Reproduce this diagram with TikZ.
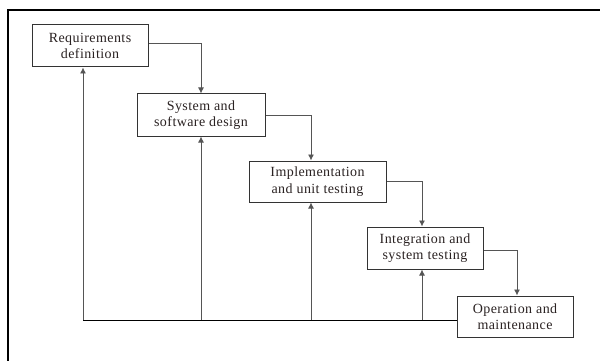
\documentclass[tikz,border=0pt]{standalone}
\usepackage{fontspec}
\setmainfont[LetterSpace=3]{Liberation Serif}
\usetikzlibrary{arrows.meta}
\definecolor{txt}{HTML}{2A2222}
\definecolor{ln}{HTML}{555555}
\definecolor{bx}{HTML}{333333}
\begin{document}
\begin{tikzpicture}[x=1pt,y=-1pt,
  stage/.style={draw=bx, line width=1pt, fill=white, align=center, inner sep=0pt,
    text=txt, font=\fontsize{14}{16.5}\selectfont},
  conn/.style={draw=ln, line width=0.9pt},
  arr/.style={conn, -{Latex[length=6pt,width=6pt]}}]
\useasboundingbox (0,0) rectangle (600,361);
\fill[white] (0,0) rectangle (600,361);
\draw[line width=2pt, black] (7.5,361) -- (7.5,10) -- (600,10);

\node[stage, minimum width=116pt, minimum height=42pt] (req) at (90,46) {Requirements\\definition};
\node[stage, minimum width=128pt, minimum height=42pt] (sys) at (201,115) {System and\\software design};
\node[stage, minimum width=137pt, minimum height=41pt] (impl) at (317.5,181.5) {Implementation\\and unit testing};
\node[stage, minimum width=116pt, minimum height=42pt] (integ) at (425,248) {Integration and\\system testing};
\node[stage, minimum width=116pt, minimum height=41pt] (op) at (515,316.5) {Operation and\\maintenance};

\coordinate (implT) at ([xshift=-6.5pt]impl.north);
\coordinate (implB) at ([xshift=-6.5pt]impl.south);
\coordinate (integT) at ([xshift=-3pt]integ.north);
\coordinate (integB) at ([xshift=-3pt]integ.south);
\coordinate (opT) at ([xshift=2pt]op.north);

% forward flow
\draw[arr] ([yshift=3pt]req.east) -| (sys.north);
\draw[arr] (sys.east) -| (implT);
\draw[arr] (impl.east) -| (integT);
\draw[arr] ([yshift=-2pt]integ.east) -| (opT);

% feedback
\coordinate (fb) at (83,320);
\draw[conn, draw=black] (fb) -- (fb -| op.west);
\draw[arr] (fb) -- (fb |- req.south);
\draw[arr] (fb -| sys.south) -- (sys.south);
\draw[arr] (fb -| implB) -- (implB);
\draw[arr] (fb -| integB) -- (integB);
\end{tikzpicture}
\end{document}
